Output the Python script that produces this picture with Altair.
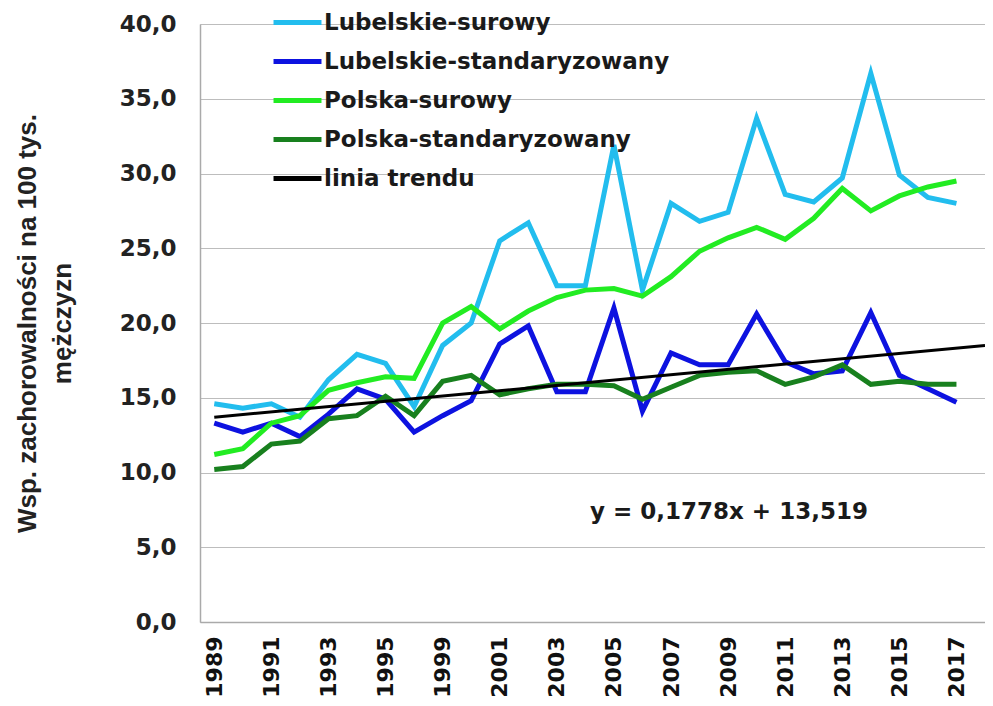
import altair as alt
import pandas as pd

YEARS = ["1989", "1990", "1991", "1992", "1993", "1994", "1995", "1997", "1999",
         "2000", "2001", "2002", "2003", "2004", "2005", "2006", "2007", "2008",
         "2009", "2010", "2011", "2012", "2013", "2014", "2015", "2016", "2017"]

LUB_SUROWY = [14.6, 14.3, 14.6, 13.7, 16.2, 17.9, 17.3, 14.4, 18.5, 20.0, 25.5, 26.7,
              22.5, 22.5, 31.9, 22.2, 28.0, 26.8, 27.4, 33.7, 28.6, 28.1, 29.7, 36.7,
              29.9, 28.4, 28.0]
LUB_STAND = [13.3, 12.7, 13.3, 12.4, 13.9, 15.6, 14.9, 12.7, 13.8, 14.8, 18.6, 19.8,
             15.4, 15.4, 21.0, 14.1, 18.0, 17.2, 17.2, 20.6, 17.4, 16.6, 16.8, 20.7,
             16.5, 15.6, 14.7]
POL_SUROWY = [11.2, 11.6, 13.3, 13.8, 15.5, 16.0, 16.4, 16.3, 20.0, 21.1, 19.6, 20.8,
              21.7, 22.2, 22.3, 21.8, 23.1, 24.8, 25.7, 26.4, 25.6, 27.0, 29.0, 27.5,
              28.5, 29.1, 29.5]
POL_STAND = [10.2, 10.4, 11.9, 12.1, 13.6, 13.8, 15.1, 13.8, 16.1, 16.5, 15.2, 15.6,
             15.9, 15.9, 15.8, 14.9, 15.7, 16.5, 16.7, 16.8, 15.9, 16.4, 17.2, 15.9,
             16.1, 15.9, 15.9]

SERIES = ["Lubelskie-surowy", "Lubelskie-standaryzowany", "Polska-surowy",
          "Polska-standaryzowany", "linia trendu"]
COLORS = ["#22bdee", "#0d12e0", "#22ec22", "#18801e", "#000000"]

TREND_SLOPE = 0.1778
TREND_INTERCEPT = 13.519
TREND_X = [1, 28]  # trend runs one period past the last category
TREND_LABEL = "y = 0,1778x + 13,519"
TREND_LABEL_POS = (19.03, 7.36)

rows = []
for name, vals in zip(SERIES[:4], [LUB_SUROWY, LUB_STAND, POL_SUROWY, POL_STAND]):
    for i, v in enumerate(vals):
        rows.append({"idx": i + 1, "value": v, "series": name})
df = pd.DataFrame(rows)

trend_df = pd.DataFrame({
    "idx": TREND_X,
    "value": [TREND_SLOPE * x + TREND_INTERCEPT for x in TREND_X],
    "series": ["linia trendu"] * 2,
})
ann_df = pd.DataFrame({"idx": [TREND_LABEL_POS[0]], "value": [TREND_LABEL_POS[1]],
                       "text": [TREND_LABEL]})

label_arr = "[" + ",".join(f"'{y}'" for y in YEARS) + "]"
FONT = "DejaVu Sans"
TFONT = "Liberation Sans"

x_enc = alt.X("idx:Q",
              scale=alt.Scale(domain=[0.5, 28], nice=False, zero=False),
              axis=alt.Axis(values=list(range(1, len(YEARS) + 1, 2)),
                            labelExpr=label_arr + "[datum.value-1]",
                            labelAngle=-90, labelFontSize=22, labelFontWeight="bold",
                            labelFont=FONT, labelColor="#111111", labelPadding=14,
                            ticks=False, grid=False, domainColor="#aaaaaa",
                            domainWidth=1.5, title=None, labelFlush=False,
                            labelOverlap=False))
y_enc = alt.Y("value:Q",
              scale=alt.Scale(domain=[0, 40], nice=False),
              axis=alt.Axis(values=[0, 5, 10, 15, 20, 25, 30, 35, 40],
                            labelExpr="replace(format(datum.value, '.1f'), '.', ',')",
                            labelFontSize=23, labelFontWeight="bold", labelFont=FONT,
                            labelColor="#222222", labelPadding=24, ticks=False,
                            gridColor="#bdbdbd", gridWidth=1.2,
                            domainColor="#aaaaaa", domainWidth=1.5,
                            title=["Wsp. zachorowalności na 100 tys.", "mężczyzn"],
                            titleFontSize=26, titleFontWeight="bold", titleFont=TFONT,
                            titleColor="#222222", titlePadding=44, titleLineHeight=35))

color_scale = alt.Scale(domain=SERIES, range=COLORS)
legend = alt.Legend(orient="none", legendX=71, legendY=-28, title=None,
                    symbolType="stroke", symbolSize=2300, symbolStrokeWidth=5,
                    labelFontSize=23, labelFontWeight="bold", labelFont=FONT,
                    labelColor="#1a1a1a", rowPadding=-11, labelOffset=0,
                    symbolOffset=0, labelLimit=500)

lines = alt.Chart(df).mark_line(strokeWidth=5).encode(
    x=x_enc, y=y_enc,
    color=alt.Color("series:N", scale=color_scale, legend=legend, sort=SERIES),
    detail="series:N",
)
trend = alt.Chart(trend_df).mark_line(strokeWidth=3).encode(
    x="idx:Q", y="value:Q",
    color=alt.Color("series:N", scale=color_scale, legend=legend, sort=SERIES),
)
ann = alt.Chart(ann_df).mark_text(font=FONT, fontSize=23, fontWeight="bold",
                                  color="#1a1a1a").encode(
    x="idx:Q", y="value:Q", text="text:N")

chart = alt.layer(lines, trend, ann).properties(
    width=785, height=598,
    autosize=alt.AutoSizeParams(type="none"),
    padding={"left": 192, "top": 16, "right": 0, "bottom": 82},
).configure_view(stroke=None).configure(background="white")

chart.save("out.html", embed_options={"renderer": "svg", "actions": False})
